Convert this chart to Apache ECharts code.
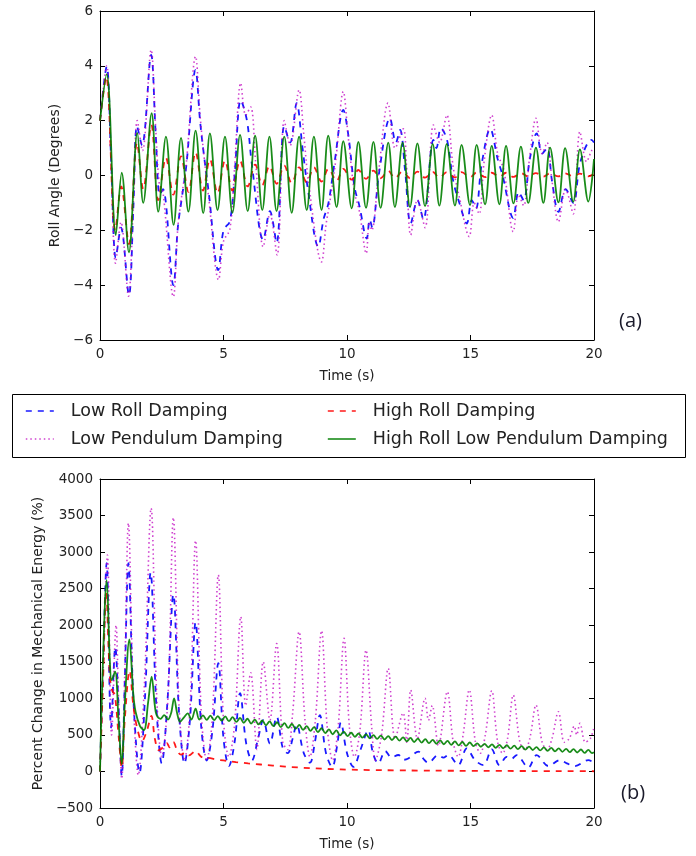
<!DOCTYPE html>
<html>
<head>
<meta charset="utf-8">
<script src="https://cdn.jsdelivr.net/npm/echarts@6/dist/echarts.min.js"></script>
<style>
  html, body { margin: 0; padding: 0; background: #fff; }
  #chart { width: 696px; height: 856px; }
</style>
</head>
<body>
<div id="chart"></div>
<script>
// Series names
const seriesNames = ['Low Roll Damping', 'Low Pendulum Damping', 'High Roll Damping', 'High Roll Low Pendulum Damping'];
const timeTicks = [0, 5, 10, 15, 20];
const rollTicks = [-6, -4, -2, 0, 2, 4, 6];
const energyTicks = [-500, 0, 500, 1000, 1500, 2000, 2500, 3000, 3500, 4000];

// (a) roll angle, degrees: [time s, angle]
const rollLowRoll = [[0,2.0],[0.27,3.97],[0.45,0.6],[0.64,-3.0],[0.85,-1.9],[1.17,-4.36],[1.35,-1.2],[1.5,1.8],[1.7,1.1],[2.07,4.4],[2.25,1.6],[2.42,-0.7],[2.55,-0.5],[2.97,-4.0],[3.15,-1.9],[3.3,-0.9],[3.5,0.4],[3.87,3.85],[4.05,2.0],[4.2,0.8],[4.4,-0.6],[4.79,-3.45],[5.0,-2.0],[5.26,-1.66],[5.45,0.0],[5.7,2.75],[5.95,2.0],[6.15,0.4],[6.61,-2.35],[6.88,-1.3],[7.15,-2.46],[7.46,1.8],[7.7,1.2],[7.96,2.64],[8.2,1.0],[8.4,-0.4],[8.84,-2.6],[9.05,-1.6],[9.25,-1.0],[9.5,0.5],[9.85,2.39],[10.05,1.5],[10.3,-0.4],[10.5,-1.1],[10.8,-2.3],[10.92,-1.6],[11.02,-1.9],[11.3,0.1],[11.74,2.09],[11.98,1.2],[12.15,1.66],[12.35,0.2],[12.58,-1.75],[12.85,-0.9],[13.09,-1.6],[13.5,1.3],[13.62,1.0],[13.8,1.73],[14.05,1.3],[14.3,-0.2],[14.55,-1.0],[14.85,-1.75],[15.05,-0.9],[15.22,-1.2],[15.45,0.4],[15.8,1.7],[16.1,0.6],[16.3,0.0],[16.73,-1.55],[16.95,-0.6],[17.15,-0.9],[17.4,0.6],[17.68,1.54],[17.9,0.8],[18.1,1.0],[18.3,-0.2],[18.56,-1.33],[18.85,-0.5],[19.16,-1.0],[19.45,0.5],[19.9,1.3],[20,1.2]];
const rollLowPend = [[0,2.0],[0.27,4.0],[0.45,0.5],[0.63,-3.2],[0.85,-1.7],[1.15,-4.4],[1.35,-1.0],[1.51,2.0],[1.72,0.9],[2.07,4.58],[2.25,1.8],[2.4,-0.3],[2.55,-0.6],[2.97,-4.42],[3.15,-1.9],[3.3,-0.8],[3.5,0.5],[3.87,4.34],[4.05,2.2],[4.2,0.8],[4.4,-0.8],[4.8,-3.8],[5.0,-2.4],[5.26,-1.95],[5.45,0.3],[5.7,3.37],[5.9,2.2],[6.1,2.5],[6.3,0.5],[6.61,-2.6],[6.88,-1.4],[7.17,-2.9],[7.46,2.0],[7.7,1.1],[8.06,3.12],[8.25,1.5],[8.45,-0.3],[8.97,-3.15],[9.15,-1.8],[9.3,-1.0],[9.55,0.6],[9.85,3.06],[10.05,1.4],[10.3,-0.6],[10.5,-1.3],[10.78,-2.84],[10.9,-1.7],[11.0,-2.0],[11.3,0.3],[11.66,2.64],[11.95,1.0],[12.28,1.7],[12.4,0.5],[12.58,-2.17],[12.85,-0.9],[13.16,-1.9],[13.5,1.84],[13.75,1.2],[14.04,2.2],[14.3,0.3],[14.55,-0.8],[14.95,-2.23],[15.15,-1.0],[15.35,-1.4],[15.55,0.5],[15.86,2.2],[16.1,0.8],[16.35,0.2],[16.73,-2.05],[16.95,-0.7],[17.15,-1.1],[17.4,0.7],[17.65,2.09],[17.9,0.8],[18.1,1.2],[18.3,-0.2],[18.56,-1.69],[18.85,-0.5],[19.16,-1.4],[19.43,1.6],[19.7,0.5],[19.9,0.9],[20,1.0]];
const rollHighRoll = [[0,2.0],[0.25,3.6],[0.62,-2.0],[0.86,-0.4],[1.17,-2.5],[1.5,1.2],[1.75,-0.5],[2.08,1.85],[2.36,-0.9],[2.67,0.65],[2.97,-0.7],[3.28,0.7],[3.58,-0.6],[3.87,0.85],[4.17,-0.55],[4.45,0.6],[4.76,-0.65],[5.06,0.55],[5.36,-0.55],[5.67,0.55],[5.98,-0.4],[6.28,0.4],[6.57,-0.35],[6.86,0.35],[7.15,-0.3],[7.46,0.36],[7.76,-0.28],[8.06,0.3],[8.37,-0.25],[8.66,0.3],[8.97,-0.22],[9.25,0.25],[9.58,-0.2],[9.85,0.24],[10.19,-0.15],[10.46,0.2],[10.77,-0.12],[11.07,0.18],[11.36,-0.1],[11.67,0.17],[11.94,-0.1],[12.25,0.15],[12.55,-0.1],[12.85,0.14],[13.16,-0.08],[13.47,0.13],[13.74,-0.08],[14.04,0.12],[14.37,-0.07],[14.64,0.12],[14.98,-0.06],[15.25,0.11],[15.59,-0.06],[15.86,0.1],[16.17,-0.05],[16.44,0.1],[16.74,-0.05],[17.04,0.09],[17.34,-0.04],[17.65,0.09],[17.95,-0.04],[18.22,0.08],[18.56,-0.03],[18.83,0.08],[19.16,-0.03],[19.43,0.07],[19.77,-0.03],[20,0.05]];
const rollHighRollLowPend = [[0,2.0],[0.27,3.7],[0.64,-2.17],[0.88,0.1],[1.17,-2.8],[1.51,1.55],[1.75,-1.0],[2.09,2.27],[2.36,-1.32],[2.67,1.42],[2.98,-1.8],[3.28,1.37],[3.58,-1.32],[3.87,1.64],[4.18,-1.37],[4.45,1.54],[4.76,-1.26],[5.06,1.42],[5.36,-1.36],[5.67,1.48],[5.98,-1.3],[6.28,1.45],[6.57,-1.26],[6.86,1.42],[7.15,-1.3],[7.46,1.42],[7.76,-1.36],[8.06,1.42],[8.37,-1.26],[8.66,1.42],[8.97,-1.26],[9.24,1.45],[9.58,-1.15],[9.85,1.25],[10.19,-1.2],[10.46,1.23],[10.77,-1.18],[11.07,1.23],[11.36,-1.18],[11.67,1.2],[11.94,-1.15],[12.25,1.2],[12.55,-1.15],[12.85,1.17],[13.16,-1.12],[13.47,1.15],[13.74,-1.1],[14.04,1.15],[14.37,-1.1],[14.64,1.12],[14.98,-1.08],[15.25,1.12],[15.59,-1.05],[15.86,1.08],[16.17,-1.05],[16.44,1.08],[16.74,-1.02],[17.04,1.05],[17.34,-1.0],[17.65,1.02],[17.95,-1.0],[18.22,1.02],[18.56,-0.98],[18.83,1.0],[19.16,-0.96],[19.43,0.95],[19.77,-0.95],[20,0.6]];

// (b) percent change in mechanical energy: [time s, percent]
const energyLowRoll = [[0,0],[0.12,1400],[0.27,2850],[0.45,600],[0.62,1700],[0.75,900],[0.88,-60],[1.0,1200],[1.15,2850],[1.35,1000],[1.6,-20],[1.82,1000],[2.05,2720],[2.28,900],[2.5,110],[2.72,900],[2.97,2420],[3.2,800],[3.42,110],[3.64,700],[3.87,2040],[4.1,600],[4.32,150],[4.55,550],[4.79,1480],[5.0,450],[5.22,75],[5.45,400],[5.67,1070],[5.92,380],[6.15,150],[6.4,450],[6.61,700],[6.88,380],[7.15,750],[7.4,320],[7.6,250],[7.8,450],[7.96,640],[8.25,250],[8.5,120],[8.7,400],[8.9,770],[9.15,250],[9.4,60],[9.6,350],[9.75,670],[10.0,250],[10.26,64],[10.55,300],[10.86,566],[11.05,250],[11.27,110],[11.55,280],[11.8,190],[12.08,225],[12.3,160],[12.48,178],[12.89,270],[13.1,170],[13.29,119],[13.7,225],[13.9,190],[14.1,225],[14.5,87],[14.85,315],[15.18,155],[15.52,87],[15.86,301],[16.17,87],[16.47,200],[16.65,170],[16.87,223],[17.34,55],[17.68,223],[18.15,74],[18.62,155],[18.9,110],[19.23,74],[19.77,155],[20,120]];
const energyLowPend = [[0,0],[0.13,1400],[0.3,2960],[0.47,500],[0.65,2000],[0.76,900],[0.88,-100],[1.0,1300],[1.15,3394],[1.35,1000],[1.55,-50],[1.8,1200],[2.07,3600],[2.3,1000],[2.5,200],[2.75,1000],[2.97,3470],[3.2,900],[3.42,150],[3.65,900],[3.87,3156],[4.1,800],[4.32,150],[4.55,750],[4.79,2687],[5.0,700],[5.22,200],[5.45,650],[5.7,2117],[5.9,900],[6.1,1350],[6.35,300],[6.61,1500],[6.88,700],[7.15,1750],[7.4,400],[7.6,300],[7.8,800],[8.06,1911],[8.3,700],[8.5,200],[8.72,700],[8.97,1925],[9.2,600],[9.42,150],[9.64,600],[9.88,1820],[10.1,600],[10.3,200],[10.52,550],[10.77,1660],[11.0,600],[11.15,155],[11.4,500],[11.67,1410],[11.95,450],[12.27,800],[12.42,400],[12.58,1114],[12.85,450],[13.16,1000],[13.3,700],[13.45,900],[13.7,350],[14.06,1090],[14.3,400],[14.5,200],[14.7,500],[14.95,1114],[15.2,400],[15.4,250],[15.6,500],[15.86,1104],[16.1,400],[16.3,250],[16.5,450],[16.73,1045],[17.0,400],[17.2,300],[17.4,450],[17.65,908],[17.9,400],[18.1,300],[18.3,450],[18.56,817],[18.8,400],[19.0,450],[19.2,620],[19.3,500],[19.43,658],[19.65,400],[19.85,450],[20,600]];
const energyHighRoll = [[0,0],[0.12,1200],[0.25,2450],[0.4,1300],[0.5,1100],[0.6,1050],[0.75,500],[0.88,50],[1.0,700],[1.2,1380],[1.35,900],[1.5,600],[1.7,415],[1.9,560],[2.08,760],[2.22,450],[2.38,290],[2.55,330],[2.7,390],[2.82,330],[2.97,400],[3.12,290],[3.28,230],[3.45,260],[3.6,220],[3.87,280],[4.1,200],[4.4,185],[4.7,165],[5.0,150],[5.5,128],[6.0,110],[6.5,95],[7.0,80],[7.5,66],[8.0,55],[8.5,45],[9.0,37],[9.5,30],[10,25],[11,19],[12,15],[13,12],[14,10],[15,8],[16,7],[17,6],[18,5],[19,4],[20,3]];
const energyHighRollLowPend = [[0,0],[0.1,1300],[0.27,2618],[0.4,1500],[0.47,1250],[0.61,1364],[0.75,700],[0.88,100],[1.0,900],[1.19,1807],[1.35,1050],[1.44,817],[1.62,620],[1.78,566],[1.95,950],[2.09,1296],[2.22,900],[2.29,772],[2.45,720],[2.6,770],[2.75,710],[2.88,800],[3.0,1000],[3.12,800],[3.24,680],[3.4,740],[3.55,795],[3.7,710],[3.87,860],[4.02,710],[4.17,768],[4.32,705],[4.47,763],[4.62,701],[4.77,758],[4.92,696],[5.07,753],[5.22,687],[5.37,742],[5.52,677],[5.67,732],[5.82,666],[5.97,721],[6.12,655],[6.27,709],[6.42,643],[6.57,697],[6.72,631],[6.87,685],[7.02,619],[7.17,673],[7.32,607],[7.47,661],[7.62,595],[7.77,649],[7.92,583],[8.07,636],[8.22,569],[8.37,621],[8.52,554],[8.67,606],[8.82,539],[8.97,591],[9.12,524],[9.27,576],[9.42,509],[9.57,561],[9.72,494],[9.87,546],[10.02,484],[10.17,529],[10.32,474],[10.47,519],[10.62,463],[10.77,508],[10.92,453],[11.07,498],[11.22,445],[11.37,491],[11.52,437],[11.67,483],[11.82,430],[11.97,476],[12.12,421],[12.27,467],[12.42,412],[12.57,458],[12.72,403],[12.87,449],[13.02,395],[13.17,441],[13.32,387],[13.47,433],[13.62,379],[13.77,426],[13.92,372],[14.07,418],[14.22,364],[14.37,411],[14.52,357],[14.67,403],[14.82,350],[14.97,396],[15.12,345],[15.27,385],[15.42,338],[15.57,378],[15.72,330],[15.87,370],[16.02,323],[16.17,364],[16.32,317],[16.47,358],[16.62,311],[16.77,352],[16.92,305],[17.07,346],[17.22,299],[17.37,340],[17.52,293],[17.67,334],[17.82,287],[17.97,328],[18.12,281],[18.27,322],[18.42,275],[18.57,316],[18.72,269],[18.87,310],[19.02,263],[19.17,305],[19.32,259],[19.47,300],[19.62,254],[19.77,296],[19.92,250],[20,262]];

const BLUE = '#0000ff', MAGENTA = '#bf00bf', RED = '#ff0000', GREEN = '#008000';
const FONT = '"DejaVu Sans", sans-serif';
const minus = v => String(v).replace('-', '\u2212');

function mkLine(name, data, idx, color, type, width, opacity) {
  return {
    name: name, type: 'line', data: data,
    xAxisIndex: idx * 2, yAxisIndex: idx * 2,
    smooth: 0.35, showSymbol: false, symbol: 'none',
    lineStyle: { color: color, width: width, type: type, cap: 'butt', opacity: opacity },
    itemStyle: { color: color },
    emphasis: { disabled: true }
  };
}

function mkX(grid, top, name) {
  return {
    gridIndex: grid, type: 'value', min: timeTicks[0], max: timeTicks[timeTicks.length - 1], interval: 5,
    position: top ? 'top' : 'bottom',
    name: top ? '' : name, nameLocation: 'middle', nameGap: 29,
    nameTextStyle: { fontFamily: FONT, fontSize: 13.5, color: '#222' },
    axisLine: { show: true, onZero: false, lineStyle: { color: '#000', width: 1 } },
    axisTick: { show: true, inside: true, length: 5, lineStyle: { color: '#000' } },
    axisLabel: { show: !top, margin: 7, fontFamily: FONT, fontSize: 13.5, color: '#222' },
    splitLine: { show: false }
  };
}
function mkY(grid, right, ticks, interval, name, gap) {
  return {
    gridIndex: grid, type: 'value', min: ticks[0], max: ticks[ticks.length - 1], interval: interval,
    position: right ? 'right' : 'left',
    name: right ? '' : name, nameLocation: 'middle', nameGap: gap, nameRotate: 90,
    nameTextStyle: { fontFamily: FONT, fontSize: 14, color: '#222' },
    axisLine: { show: true, onZero: false, lineStyle: { color: '#000', width: 1 } },
    axisTick: { show: true, inside: true, length: 5, lineStyle: { color: '#000' } },
    axisLabel: { show: !right, margin: 7, fontFamily: FONT, fontSize: 13.5, color: '#222', formatter: minus },
    splitLine: { show: false }
  };
}

const legendText = { fontFamily: FONT, fontSize: 17.5, color: '#222', padding: [0, 0, 0, 12] };
const legendBase = {
  top: 397, orient: 'vertical', itemGap: 10, itemWidth: 28, itemHeight: 18,
  textStyle: legendText, selectedMode: false,
  itemStyle: { opacity: 0 }, lineStyle: { width: 1.6 }
};

const option = {
  animation: false,
  backgroundColor: '#fff',
  grid: [
    { left: 100, top: 11, width: 494, height: 329 },
    { left: 100, top: 479, width: 494, height: 329 }
  ],
  xAxis: [mkX(0, false, 'Time (s)'), mkX(0, true), mkX(1, false, 'Time (s)'), mkX(1, true)],
  yAxis: [
    mkY(0, false, rollTicks, 2, 'Roll Angle (Degrees)', 32),
    mkY(0, true, rollTicks, 2),
    mkY(1, false, energyTicks, 500, 'Percent Change in Mechanical Energy (%)', 52),
    mkY(1, true, energyTicks, 500)
  ],
  legend: [
    Object.assign({ left: 20, data: [seriesNames[0], seriesNames[1]] }, legendBase),
    Object.assign({ left: 322, data: [seriesNames[2], seriesNames[3]] }, legendBase)
  ],
  graphic: [
    { type: 'rect', left: 10, top: 392, shape: { width: 673, height: 63 },
      style: { fill: 'none', stroke: '#000', lineWidth: 1 }, z: 0 },
    { type: 'text', left: 619, top: 311, style: { text: '(a)', font: '20px "Open Sans", sans-serif', fill: '#1a1a2a' } },
    { type: 'text', left: 621, top: 783, style: { text: '(b)', font: '20px "Open Sans", sans-serif', fill: '#1a1a2a' } }
  ],
  series: [
    mkLine(seriesNames[0], rollLowRoll, 0, BLUE, [6, 6], 1.8, 0.9),
    mkLine(seriesNames[1], rollLowPend, 0, MAGENTA, [1.5, 3], 1.6, 0.75),
    mkLine(seriesNames[2], rollHighRoll, 0, RED, [6, 6], 1.8, 0.9),
    mkLine(seriesNames[3], rollHighRollLowPend, 0, GREEN, 'solid', 1.8, 0.9),
    mkLine(seriesNames[0], energyLowRoll, 1, BLUE, [6, 6], 1.8, 0.9),
    mkLine(seriesNames[1], energyLowPend, 1, MAGENTA, [1.5, 3], 1.6, 0.75),
    mkLine(seriesNames[2], energyHighRoll, 1, RED, [6, 6], 1.8, 0.9),
    mkLine(seriesNames[3], energyHighRollLowPend, 1, GREEN, 'solid', 1.8, 0.9)
  ]
};

const chart = echarts.init(document.getElementById('chart'), null, { renderer: 'canvas' });
chart.setOption(option);
</script>
</body>
</html>
